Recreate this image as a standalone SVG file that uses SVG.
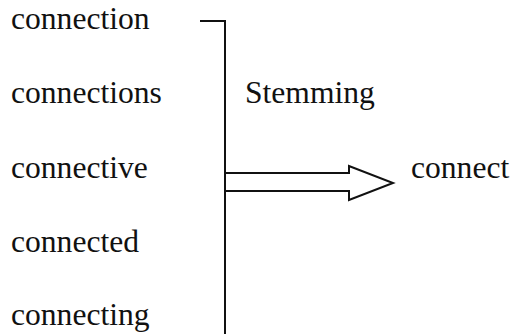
<svg xmlns="http://www.w3.org/2000/svg" width="515" height="335" viewBox="0 0 515 335">
  <style>
    .ln { stroke: #111; stroke-width: 2; fill: none; stroke-linejoin: miter; }
  </style>
  <rect width="515" height="335" fill="#fff"/>
  <!-- word forms, stem label and resulting stem -->
  <g font-family="Liberation Serif, serif" font-size="31.6" fill="#111">
    <g id="word-connection"><text x="11" y="29">connection</text></g>
    <g id="word-connections"><text x="11" y="103">connections</text></g>
    <g id="word-connective"><text x="11" y="178">connective</text></g>
    <g id="word-connected"><text x="11" y="252">connected</text></g>
    <g id="word-connecting"><text x="11" y="325">connecting</text></g>
    <g id="label-stemming"><text x="245" y="103">Stemming</text></g>
    <g id="word-connect"><text x="411" y="178">connect</text></g>
  </g>
  <!-- bracket and hollow arrow -->
  <g id="connectors">
    <path class="ln" d="M200 21 H225 V334"/>
    <path class="ln" d="M225 173 H349 V166 L393 183 L349 200 V191 H225"/>
  </g>
</svg>
